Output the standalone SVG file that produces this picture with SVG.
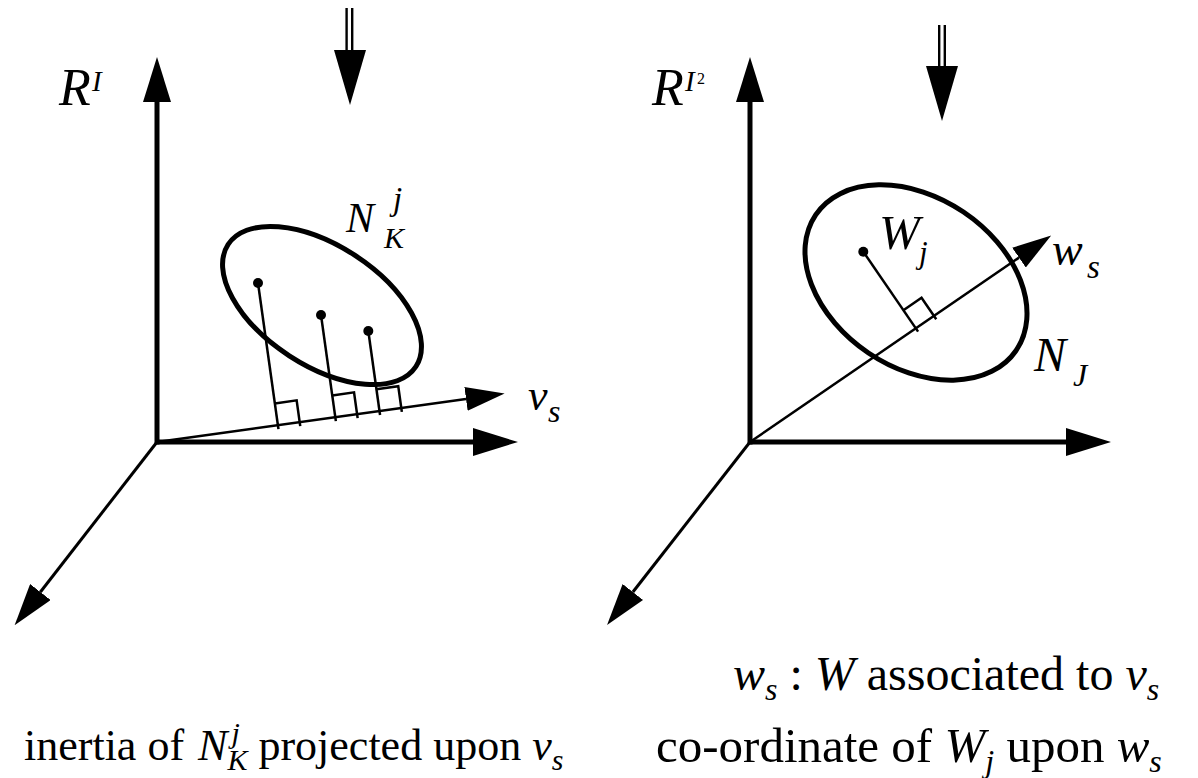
<svg xmlns="http://www.w3.org/2000/svg" width="1198" height="778" viewBox="0 0 1198 778">
<style>
text{font-family:"Liberation Serif","Times New Roman","DejaVu Serif",serif;fill:#000}
.it{font-style:italic}
.thick{stroke:#000;stroke-width:5;fill:none}
.diag{stroke:#000;stroke-width:3;fill:none}
.thin{stroke:#000;stroke-width:2.5;fill:none}
.dbl{stroke:#000;stroke-width:2.4;fill:none}
.ell{stroke:#000;stroke-width:5;fill:none}
.dot{fill:#000}
.head{fill:#000}
</style>
<defs>
<marker id="hThick" markerUnits="userSpaceOnUse" viewBox="0 0 45 28" refX="0" refY="14" markerWidth="45" markerHeight="28" orient="auto"><path d="M0,0 L45,14 L0,28 Z" fill="#000"/></marker>
<marker id="hDiag" markerUnits="userSpaceOnUse" viewBox="0 0 42 26" refX="0" refY="13" markerWidth="42" markerHeight="26" orient="auto"><path d="M0,0 L42,13 L0,26 Z" fill="#000"/></marker>
<marker id="hThin" markerUnits="userSpaceOnUse" viewBox="0 0 39 24" refX="0" refY="12" markerWidth="39" markerHeight="24" orient="auto"><path d="M0,0 L39,12 L0,24 Z" fill="#000"/></marker>
</defs>

<g id="connectors">
  <!-- left panel axes -->
  <line class="thick" x1="157" y1="444.5" x2="157" y2="102" marker-end="url(#hThick)"/>
  <line class="thick" x1="155" y1="442" x2="473" y2="442" marker-end="url(#hThick)"/>
  <line class="diag" x1="157" y1="442" x2="40.4" y2="592" marker-end="url(#hDiag)"/>
  <line class="thin" x1="157" y1="442" x2="466" y2="398.9" marker-end="url(#hThin)"/>
  <!-- right panel axes -->
  <line class="thick" x1="750" y1="444.5" x2="750" y2="102" marker-end="url(#hThick)"/>
  <line class="thick" x1="748" y1="442" x2="1066" y2="442" marker-end="url(#hThick)"/>
  <line class="diag" x1="750" y1="442" x2="632.9" y2="592" marker-end="url(#hDiag)"/>
  <line class="thin" x1="750" y1="442" x2="1019" y2="257.6" marker-end="url(#hThin)"/>
  <!-- projections left -->
  <line class="thin" x1="258" y1="283" x2="278.45" y2="429.16"/>
  <polyline class="thin" points="274.85,403.41 296.64,400.36 300.24,426.11"/>
  <line class="thin" x1="321" y1="315" x2="335.85" y2="421.16"/>
  <polyline class="thin" points="332.25,395.41 354.04,392.36 357.64,418.11"/>
  <line class="thin" x1="368.3" y1="331" x2="380.05" y2="414.96"/>
  <polyline class="thin" points="376.45,389.21 398.24,386.16 401.84,411.91"/>
  <!-- projection right -->
  <line class="thin" x1="863.3" y1="251.7" x2="918.09" y2="331.63"/>
  <polyline class="thin" points="903.39,310.18 921.54,297.74 936.24,319.19"/>
</g>

<g id="arrow-top-left">
  <line class="dbl" x1="346.6" y1="8" x2="346.6" y2="52"/>
  <line class="dbl" x1="352.2" y1="8" x2="352.2" y2="52"/>
  <polygon class="head" points="334,50 366,50 350,105"/>
</g>
<g id="arrow-top-right">
  <line class="dbl" x1="939.2" y1="25" x2="939.2" y2="68"/>
  <line class="dbl" x1="944.8" y1="25" x2="944.8" y2="68"/>
  <polygon class="head" points="926,66 958,66 942,121"/>
</g>

<g id="ellipse-NKj">
  <ellipse class="ell" cx="322" cy="305.5" rx="112" ry="60" transform="rotate(33 322 305.5)"/>
  <circle class="dot" cx="258" cy="283" r="5"/>
  <circle class="dot" cx="321" cy="315" r="5"/>
  <circle class="dot" cx="368.3" cy="331" r="5"/>
</g>
<g id="ellipse-NJ">
  <ellipse class="ell" cx="916" cy="282.5" rx="121" ry="85" transform="rotate(34 916 282.5)"/>
  <circle class="dot" cx="863.3" cy="251.7" r="5"/>
</g>

<g id="label-RI">
  <text class="it" x="59" y="105" font-size="52">R</text>
  <text class="it" x="92" y="91" font-size="29">I</text>
</g>
<g id="label-RI2">
  <text class="it" x="652" y="105" font-size="52">R</text>
  <text class="it" x="685" y="91" font-size="29">I</text>
  <text x="697" y="84" font-size="16">2</text>
</g>
<g id="label-NKj">
  <text class="it" x="346" y="232" font-size="42">N</text>
  <text class="it" x="384" y="248" font-size="30">K</text>
  <text class="it" x="393" y="210" font-size="33">j</text>
</g>
<g id="label-vs">
  <text class="it" x="528" y="410" font-size="44">v</text>
  <text class="it" x="548" y="422" font-size="32">s</text>
</g>
<g id="label-Wj">
  <text class="it" x="879" y="249" font-size="49">W</text>
  <text class="it" x="919" y="263" font-size="31">j</text>
</g>
<g id="label-ws">
  <text class="it" x="1052" y="265" font-size="46">w</text>
  <text class="it" x="1087" y="278" font-size="33">s</text>
</g>
<g id="label-NJ">
  <text class="it" x="1034" y="371" font-size="48">N</text>
  <text class="it" x="1073" y="386" font-size="32">J</text>
</g>

<g id="caption-left">
  <text x="24" y="760" font-size="44">inertia of <tspan class="it" dx="3">N</tspan><tspan class="it" font-size="30" dy="10">K</tspan><tspan class="it" font-size="30" dx="-16" dy="-27">j</tspan><tspan dx="7.7" dy="17"> projected upon </tspan><tspan class="it">v</tspan><tspan class="it" font-size="30" dy="10">s</tspan></text>
</g>
<g id="caption-right-top">
  <text x="733" y="690" font-size="48"><tspan class="it">w</tspan><tspan class="it" font-size="32" y="700">s</tspan><tspan y="690"> : </tspan><tspan class="it">W</tspan> associated to <tspan class="it">v</tspan><tspan class="it" font-size="32" y="700">s</tspan></text>
</g>
<g id="caption-right-bottom">
  <text x="656" y="762" font-size="49">co-ordinate of <tspan class="it">W</tspan><tspan class="it" font-size="32" y="772">j</tspan><tspan y="762"> upon </tspan><tspan class="it">w</tspan><tspan class="it" font-size="32" y="772">s</tspan></text>
</g>
</svg>
